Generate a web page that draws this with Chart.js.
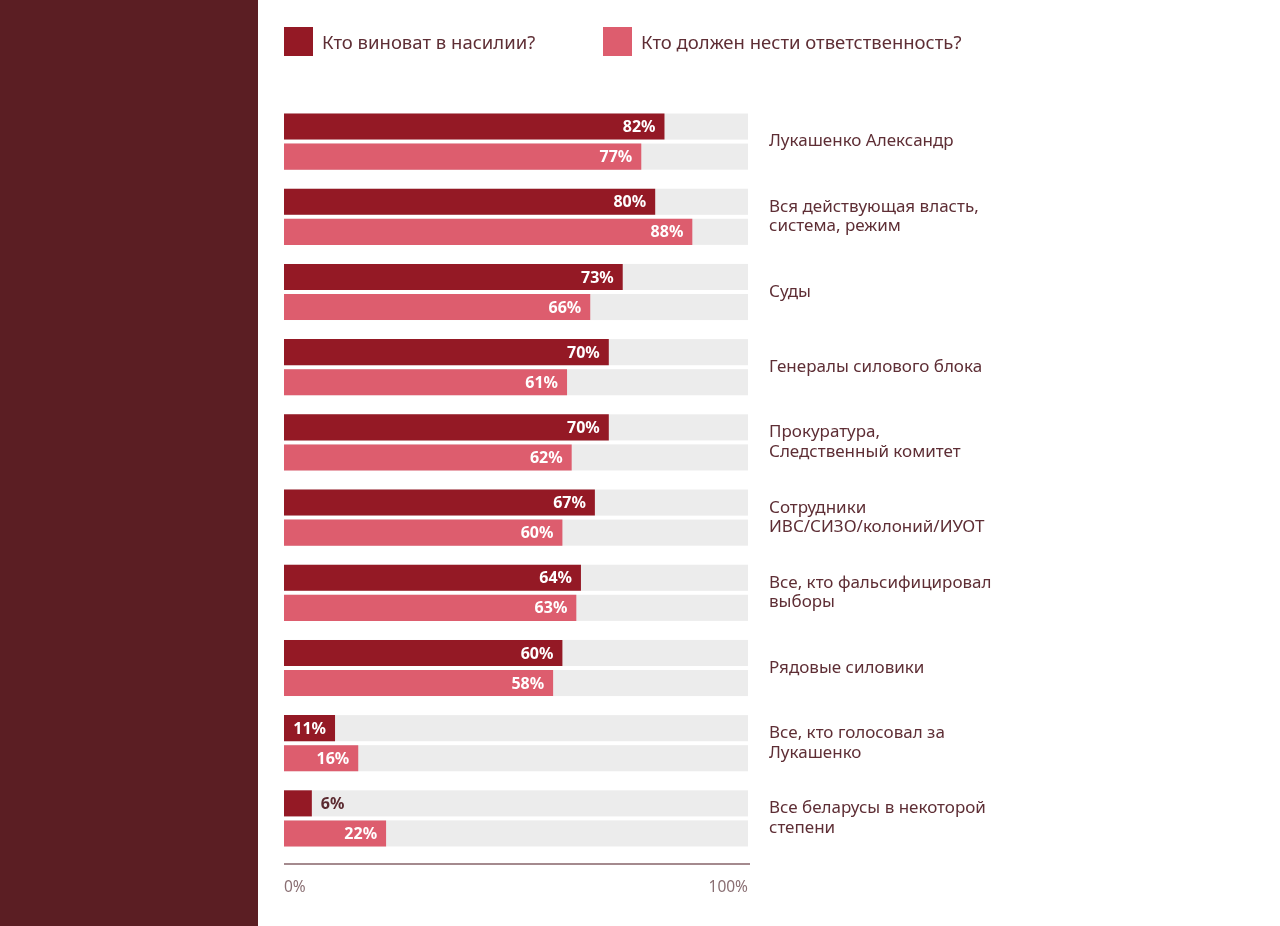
<!DOCTYPE html>
<html lang="ru">
<head>
<meta charset="utf-8">
<title>Кто виноват в насилии?</title>
<script src="https://cdn.jsdelivr.net/npm/chart.js@4.4.1/dist/chart.umd.min.js"></script>
<style>
  html, body { margin: 0; padding: 0; background: #fff; }
  body { width: 1280px; height: 926px; position: relative; overflow: hidden; font-family: "Noto Sans", sans-serif; }
  #panel { position: absolute; left: 0; top: 0; width: 258px; height: 926px; background: #5b1e23; }
  #chartBox { position: absolute; left: 0; top: 0; width: 1280px; height: 926px; }
  .leg { position: absolute; top: 27px; height: 29px; display: flex; align-items: center; color: #5e2e35; font-size: 18.5px; }
  .leg span.sw { display: inline-block; width: 29px; height: 29px; margin-right: 9px; }
</style>
</head>
<body>
<div id="panel"></div>
<div id="chartBox"><canvas id="grafico"></canvas></div>
<div class="leg" style="left:284px"><span class="sw" style="background:#941925"></span>Кто виноват в насилии?</div>
<div class="leg" style="left:603px"><span class="sw" style="background:#dd5d6e"></span>Кто должен нести ответственность?</div>
<script>
// Datos
const categorias = [
    'Лукашенко Александр',
    ['Вся действующая власть,', 'система, режим'],
    'Суды',
    'Генералы силового блока',
    ['Прокуратура,', 'Следственный комитет'],
    ['Сотрудники', 'ИВС/СИЗО/колоний/ИУОТ'],
    ['Все, кто фальсифицировал', 'выборы'],
    'Рядовые силовики',
    ['Все, кто голосовал за', 'Лукашенко'],
    ['Все беларусы в некоторой', 'степени']
];
const culpables = [82, 80, 73, 70, 70, 67, 64, 60, 11, 6];
const responsables = [77, 88, 66, 61, 62, 60, 63, 58, 16, 22];
const ticksEje = [0, 100];

const colorOscuro = '#941925';
const colorClaro = '#dd5d6e';
const colorFondo = '#ececec';
const colorTexto = '#5e2e35';

// fondo gris detras de cada barra (0..100%)
const fondoBarras = {
    id: 'fondoBarras',
    beforeDatasetsDraw(chart) {
        const ctx = chart.ctx;
        const x = chart.scales.x;
        const x0 = x.getPixelForValue(0);
        const x1 = x.getPixelForValue(100);
        ctx.save();
        ctx.fillStyle = colorFondo;
        chart.data.datasets.forEach((ds, i) => {
            chart.getDatasetMeta(i).data.forEach(bar => {
                ctx.fillRect(x0, bar.y - bar.height / 2, x1 - x0, bar.height);
            });
        });
        ctx.restore();
    }
};

// etiquetas de valor + linea del eje
const etiquetas = {
    id: 'etiquetas',
    afterDatasetsDraw(chart) {
        const ctx = chart.ctx;
        ctx.save();
        ctx.font = 'bold 16px "Noto Sans", sans-serif';
        ctx.textBaseline = 'middle';
        chart.data.datasets.forEach((ds, i) => {
            chart.getDatasetMeta(i).data.forEach((bar, j) => {
                const txt = ds.data[j] + '%';
                const ancho = bar.x - bar.base;
                if (ancho > 46) {
                    ctx.fillStyle = '#ffffff';
                    ctx.textAlign = 'right';
                    ctx.fillText(txt, bar.x - 9, bar.y + 1);
                } else {
                    ctx.fillStyle = '#5b2a30';
                    ctx.textAlign = 'left';
                    ctx.fillText(txt, bar.x + 9, bar.y + 1);
                }
            });
        });
        // linea del eje x
        const x = chart.scales.x;
        ctx.strokeStyle = '#a48a8e';
        ctx.lineWidth = 2;
        ctx.beginPath();
        ctx.moveTo(x.getPixelForValue(0), chart.chartArea.bottom + 8);
        ctx.lineTo(x.getPixelForValue(100) + 2, chart.chartArea.bottom + 8);
        ctx.stroke();
        ctx.restore();
    }
};

const ctx = document.getElementById('grafico').getContext('2d');
new Chart(ctx, {
    type: 'bar',
    data: {
        labels: categorias,
        datasets: [
            {
                label: 'Кто виноват в насилии?',
                data: culpables,
                backgroundColor: colorOscuro,
                categoryPercentage: 0.8,
                barPercentage: 0.867
            },
            {
                label: 'Кто должен нести ответственность?',
                data: responsables,
                backgroundColor: colorClaro,
                categoryPercentage: 0.8,
                barPercentage: 0.867
            }
        ]
    },
    options: {
        indexAxis: 'y',
        responsive: true,
        maintainAspectRatio: false,
        animation: false,
        layout: { padding: { left: 284, top: 104, right: 0, bottom: 30 } },
        plugins: {
            legend: { display: false },
            tooltip: { enabled: false }
        },
        scales: {
            x: {
                min: 0,
                max: 100,
                afterBuildTicks(scale) { scale.ticks = ticksEje.map(v => ({ value: v })); },
                afterFit(scale) { scale.height = 40; },
                grid: { display: false, drawTicks: false },
                border: { display: false },
                ticks: {
                    padding: 22,
                    align: 'inner',
                    color: '#8a6f73',
                    font: { family: 'Noto Sans', size: 15.5 },
                    callback: v => v + '%'
                }
            },
            y: {
                position: 'right',
                afterFit(scale) { scale.width = 532; },
                grid: { display: false, drawTicks: false },
                border: { display: false },
                ticks: {
                    padding: 21,
                    color: colorTexto,
                    font: { family: 'Noto Sans', size: 17, lineHeight: 1.15 }
                }
            }
        }
    },
    plugins: [fondoBarras, etiquetas]
});
</script>
</body>
</html>
